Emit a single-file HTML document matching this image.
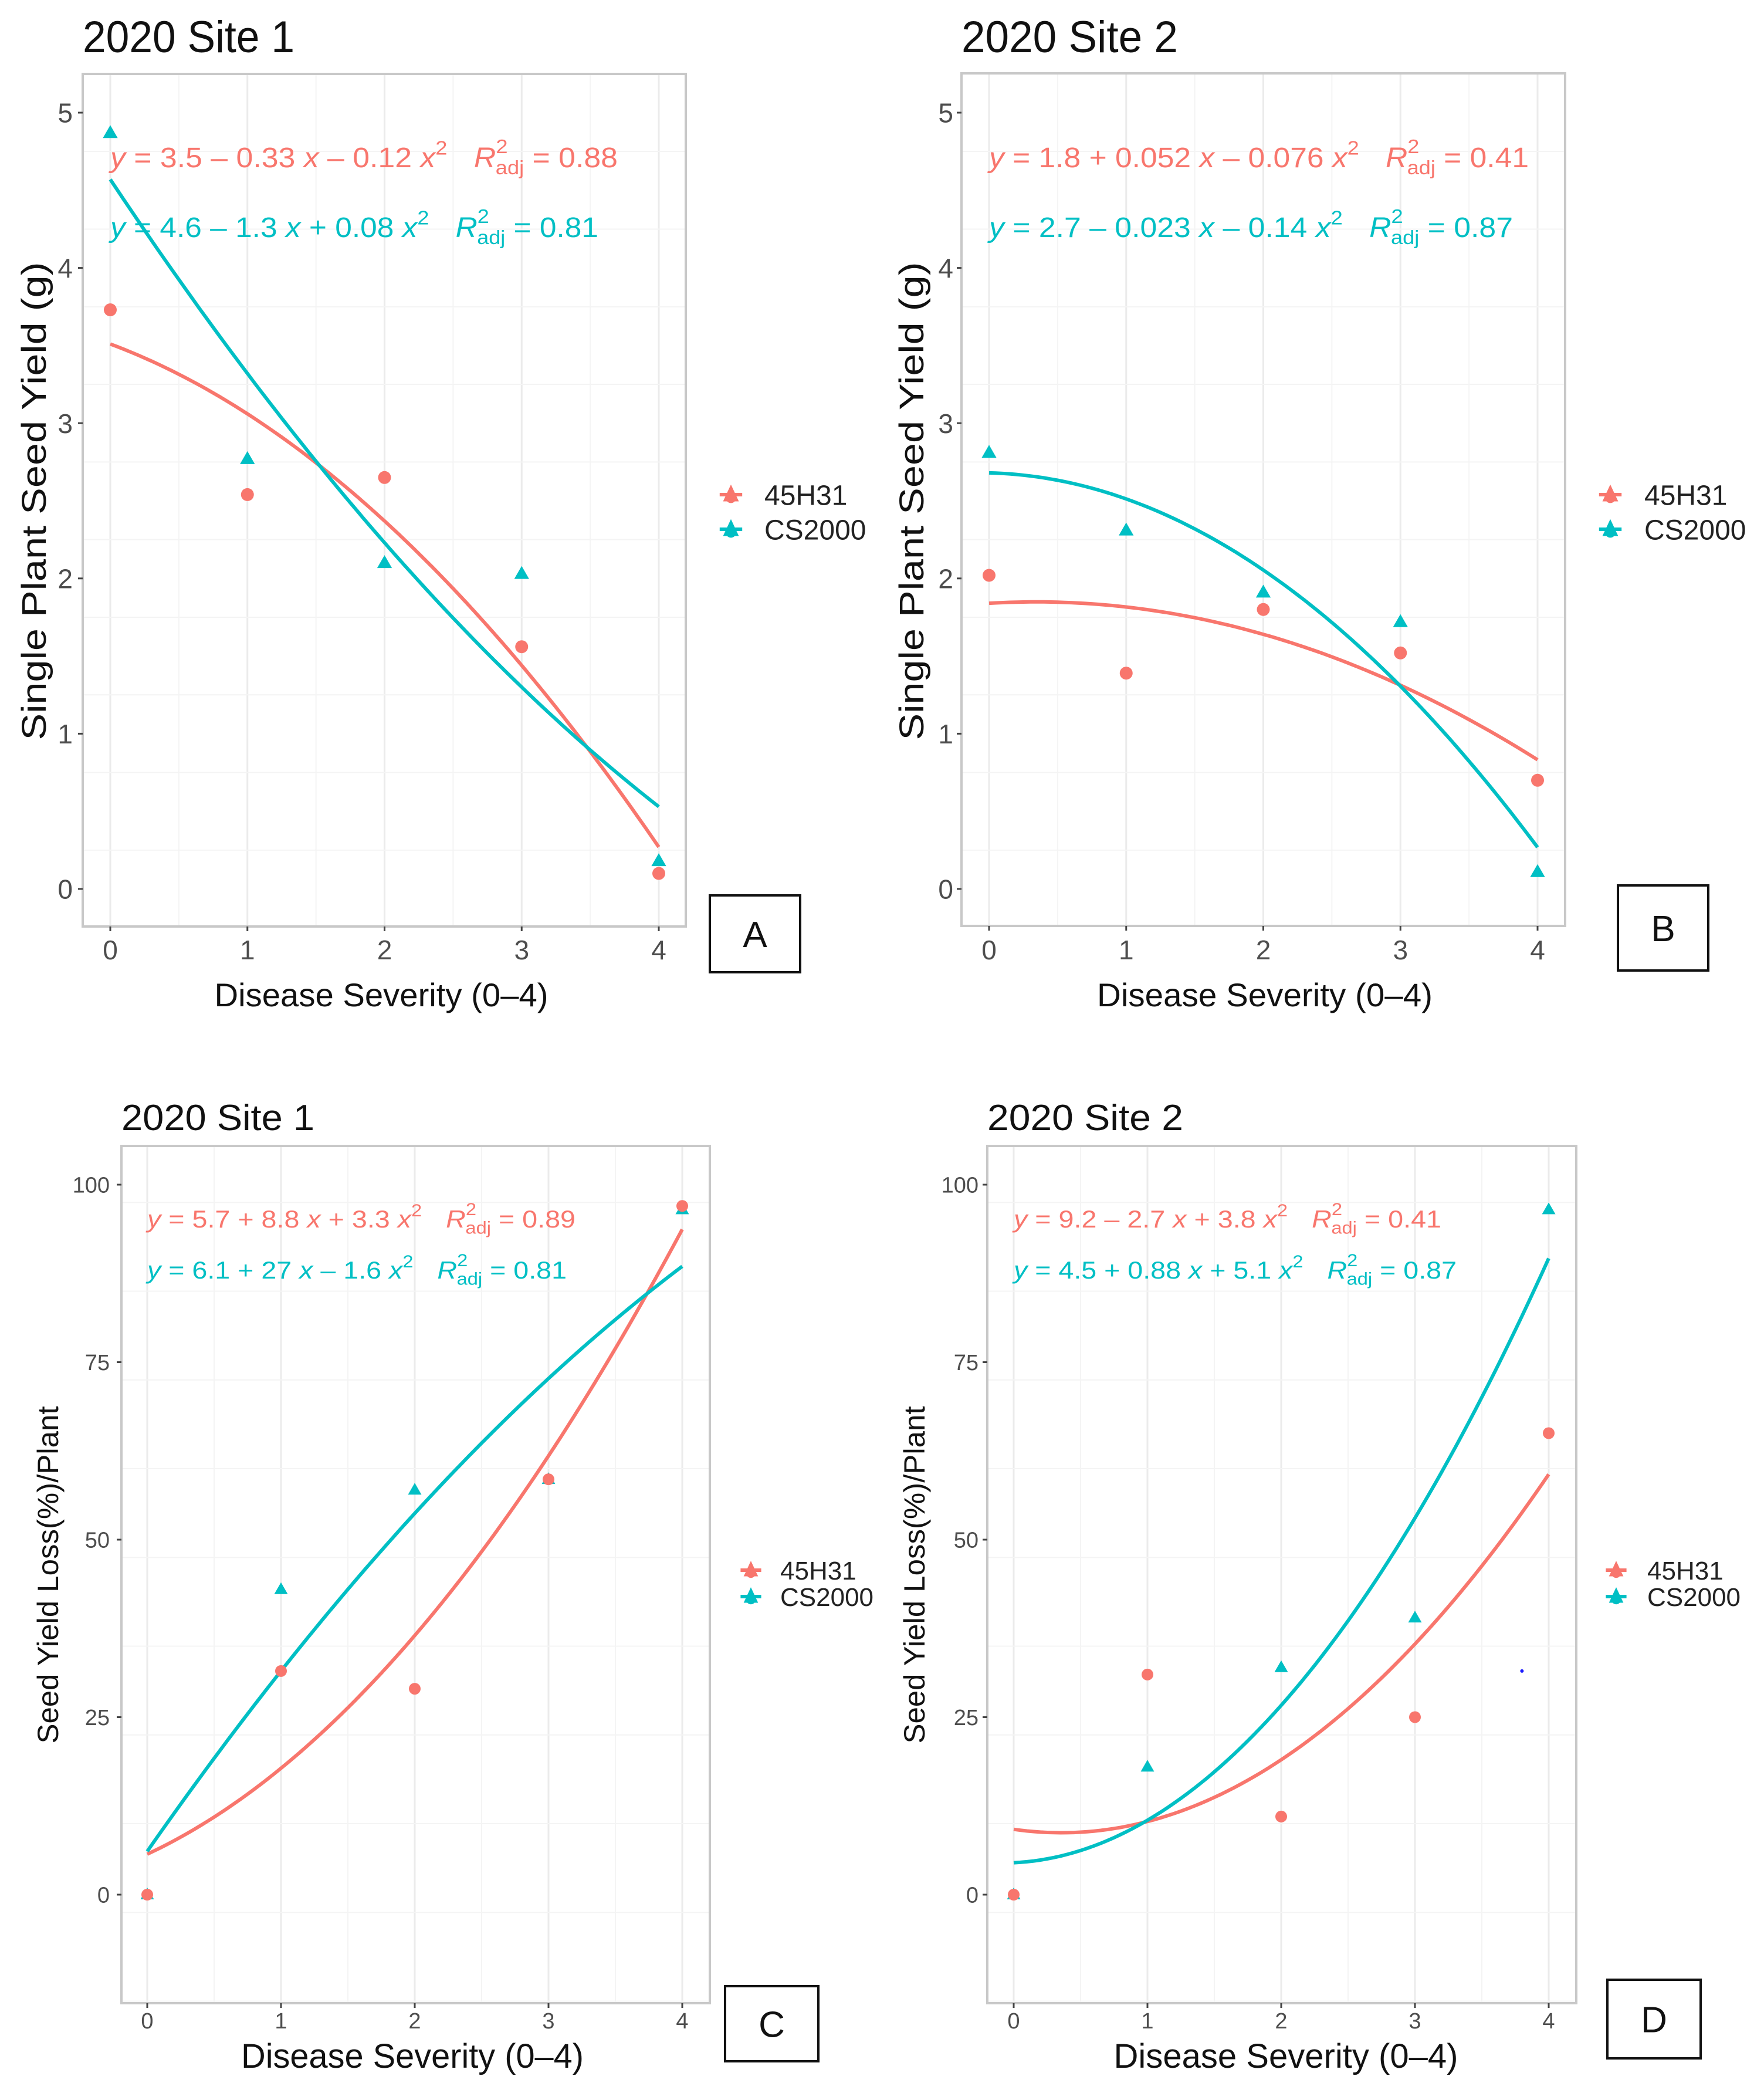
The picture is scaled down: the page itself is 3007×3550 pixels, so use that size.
<!DOCTYPE html>
<html><head><meta charset="utf-8"><style>
html,body{margin:0;padding:0;background:#fff;}
svg{display:block;font-family:"Liberation Sans",Arial,sans-serif;}
</style></head><body>
<svg id="fig" width="3007" height="3550" viewBox="0 0 3007 3550" xmlns="http://www.w3.org/2000/svg"></svg>
<script>
// ---- data ----
const xCategories = [0, 1, 2, 3, 4];
const seriesNames = ["45H31", "CS2000"];
const panelTitles = ["2020 Site 1", "2020 Site 2", "2020 Site 1", "2020 Site 2"];
const panelLetters = ["A", "B", "C", "D"];
const yTicksYield = [0, 1, 2, 3, 4, 5];
const yTicksLoss = [0, 25, 50, 75, 100];
const xTickLabels = ["0", "1", "2", "3", "4"];
const aRed = [3.73, 2.54, 2.65, 1.56, 0.10];
const aTeal = [4.87, 2.77, 2.10, 2.03, 0.18];
const bRed = [2.02, 1.39, 1.80, 1.52, 0.70];
const bTeal = [2.81, 2.31, 1.91, 1.72, 0.11];
const cRed = [0, 31.5, 29, 58.5, 97];
const cTeal = [0, 43, 57, 58.5, 96.5];
const dRed = [0, 31, 11, 25, 65];
const dTeal = [0, 18, 32, 39, 96.5];
const aRedFit = [3.51, -0.33, -0.12];
const aTealFit = [4.57, -1.33, 0.08];
const bRedFit = [1.84, 0.052, -0.076];
const bTealFit = [2.68, -0.023, -0.145];
const cRedFit = [5.7, 8.8, 3.3];
const cTealFit = [6.1, 27, -1.6];
const dRedFit = [9.2, -2.7, 3.8];
const dTealFit = [4.5, 0.88, 5.1];
const eqA = [["3.5","–","0.33","–","0.12","0.88"],["4.6","–","1.3","+","0.08","0.81"]];
const eqB = [["1.8","+","0.052","–","0.076","0.41"],["2.7","–","0.023","–","0.14","0.87"]];
const eqC = [["5.7","+","8.8","+","3.3","0.89"],["6.1","+","27","–","1.6","0.81"]];
const eqD = [["9.2","–","2.7","+","3.8","0.41"],["4.5","+","0.88","+","5.1","0.87"]];

const RED = "#F8766D", TEAL = "#00BFC4";
const NS = "http://www.w3.org/2000/svg";
const svg = document.getElementById("fig");
function mk(tag, attrs, parent){ const e=document.createElementNS(NS,tag); for(const k in attrs) e.setAttribute(k,attrs[k]); (parent||svg).appendChild(e); return e; }

const panels = [
 {L:141,R:1169,T:126,B:1579,x0:188,x4:1123,vA:0,pA:1515,vB:5,pB:192,ymin:-0.25,ymax:5.25,yt:yTicksYield,minor:0.5,
  red:aRed,teal:aTeal,rf:aRedFit,tf:aTealFit,eq:eqA,eqY:[285,404],eqW:[865,832],eqF:48,
  title:[141,89,361,76],tickF:46,tickR:124,yTitle:[57,854,815,58],yLab:"Single Plant Seed Yield (g)",
  xTitle:[650,1715,569,56],xTickY:1635,leg:[1246,1303,843,902,48],box:[1210,1526,154,131,62],mr:11,lw:6},
 {L:1639,R:2668,T:125,B:1578,x0:1686,x4:2621,vA:0,pA:1515,vB:5,pB:192,ymin:-0.25,ymax:5.25,yt:yTicksYield,minor:0.5,
  red:bRed,teal:bTeal,rf:bRedFit,tf:bTealFit,eq:eqB,eqY:[285,404],eqW:[920,893],eqF:48,
  title:[1639,89,369,76],tickF:46,tickR:1625,yTitle:[1553,854,815,58],yLab:"Single Plant Seed Yield (g)",
  xTitle:[2156,1715,572,56],xTickY:1635,leg:[2745,2803,843,902,48],box:[2758,1509,154,145,62],mr:11,lw:6},
 {L:207,R:1210,T:1953,B:3414,x0:251,x4:1163,vA:0,pA:3229,vB:100,pB:2019,ymin:-15,ymax:105,yt:yTicksLoss,minor:12.5,
  red:cRed,teal:cTeal,rf:cRedFit,tf:cTealFit,eq:eqC,eqY:[2092,2179],eqW:[730,715],eqF:42,
  title:[207,1926,329,62],tickF:38,tickR:187,yTitle:[81,2684,575,50],yLab:"Seed Yield Loss(%)/Plant",
  xTitle:[703,3524,584,58],xTickY:3457,leg:[1280,1330,2676,2721,44],box:[1236,3385,159,128,62],mr:10,lw:6},
 {L:1683,R:2687,T:1953,B:3414,x0:1728,x4:2640,vA:0,pA:3229,vB:100,pB:2019,ymin:-15,ymax:105,yt:yTicksLoss,minor:12.5,
  red:dRed,teal:dTeal,rf:dRedFit,tf:dTealFit,eq:eqD,eqY:[2092,2179],eqW:[729,755],eqF:42,
  title:[1683,1926,334,62],tickF:38,tickR:1668,yTitle:[1558,2684,575,50],yLab:"Seed Yield Loss(%)/Plant",
  xTitle:[2192,3524,587,58],xTickY:3457,leg:[2755,2808,2676,2721,44],box:[2740,3374,159,134,62],mr:10,lw:6}
];

panels.forEach((p, i) => {
  const g = mk("g", {});
  
  
  const xs = v => p.x0 + (p.x4 - p.x0) * v / 4;
  const ys = v => p.pA + (p.pB - p.pA) * (v - p.vA) / (p.vB - p.vA);
  for (let v = -0.5; v <= 4.5; v += 0.5) {
    const x = xs(v); if (x <= p.L || x >= p.R) continue;
    const l = mk("line", {x1:x, x2:x, y1:p.T, y2:p.B, stroke: Number.isInteger(v) ? "#ebebeb" : "#f4f4f4", "stroke-width": Number.isInteger(v) ? 3 : 2}, g);
    
    
  }
  for (let v = p.ymin - p.minor; v <= p.ymax + p.minor; v += p.minor) {
    const y = ys(v); if (y <= p.T || y >= p.B) continue;
    const major = p.yt.some(t => Math.abs(t - v) < 1e-6);
    const l = mk("line", {x1:p.L, x2:p.R, y1:y, y2:y, stroke: major ? "#ebebeb" : "#f4f4f4", "stroke-width": major ? 3 : 2}, g);
    
    
  }
  const frame = mk("rect", {x:p.L, y:p.T, width:p.R-p.L, height:p.B-p.T, fill:"none", stroke:"#c8c8c8", "stroke-width":4}, g);
  
  
  p.yt.forEach(t => {
    const y = ys(t);
    const tk = mk("line", {x1:p.L-8, x2:p.L, y1:y, y2:y, stroke:"#444", "stroke-width":3}, g);
    
    
    const tx = mk("text", {x:p.tickR, y:y + p.tickF*0.36, "font-size":p.tickF, fill:"#4d4d4d", "text-anchor":"end"}, g);
    tx.textContent = String(t);
    
    
  });
  xCategories.forEach((c, k) => {
    const x = xs(c);
    const tk = mk("line", {x1:x, x2:x, y1:p.B, y2:p.B+8, stroke:"#444", "stroke-width":3}, g);
    
    
    const tx = mk("text", {x:x, y:p.xTickY, "font-size":p.tickF, fill:"#4d4d4d", "text-anchor":"middle"}, g);
    tx.textContent = xTickLabels[k];
    
    
  });
  [[p.rf, RED, 'fit-line-45h31'], [p.tf, TEAL, 'fit-line-cs2000']].forEach(([f, col, nm]) => {
    let d = "";
    for (let s = 0; s <= 80; s++) { const v = s / 20; const yv = f[0] + f[1]*v + f[2]*v*v; d += (s ? "L" : "M") + xs(v).toFixed(1) + "," + ys(yv).toFixed(1); }
    const pth = mk("path", {d:d, fill:"none", stroke:col, "stroke-width":p.lw}, g);
    
    
  });
  xCategories.forEach((c, k) => {
    const x = xs(c), yr = ys(p.red[k]), yt = ys(p.teal[k]), r = p.mr;
    const tri = mk("polygon", {points:`${x},${yt-r*1.2} ${x-r*1.15},${yt+r*0.8} ${x+r*1.15},${yt+r*0.8}`, fill:TEAL}, g);
    
    
    const cir = mk("circle", {cx:x, cy:yr, r:r, fill:RED}, g);
    
    
  });
  if (i === 3) {
    const dot = mk("circle", {cx:xs(3.8), cy:ys(31.5), r:3, fill:"#1a1aff"}, g);
    
    
  }
  p.eq.forEach((e, k) => {
    const col = k ? TEAL : RED;
    const t = mk("text", {x:(p.x0), y:p.eqY[k], "font-size":p.eqF, fill:col, textLength:p.eqW[k], lengthAdjust:"spacingAndGlyphs"}, g);
    t.innerHTML = `<tspan font-style="italic">y</tspan> = ${e[0]} ${e[1]} ${e[2]} <tspan font-style="italic">x</tspan> ${e[3]} ${e[4]} <tspan font-style="italic">x</tspan><tspan dy="-${p.eqF*0.45}" font-size="${p.eqF*0.7}">2</tspan><tspan dy="${p.eqF*0.45}">   </tspan><tspan font-style="italic" dx="${p.eqF*0.6}">R</tspan><tspan dy="-${p.eqF*0.5}" font-size="${p.eqF*0.7}">2</tspan><tspan dy="${p.eqF*0.75}" dx="-${p.eqF*0.4}" font-size="${p.eqF*0.7}">adj</tspan><tspan dy="-${p.eqF*0.25}"> = ${e[5]}</tspan>`;
    
    
  });
  const ti = mk("text", {x:p.title[0], y:p.title[1], "font-size":p.title[3], fill:"#111", textLength:p.title[2], lengthAdjust:"spacingAndGlyphs"}, g);
  ti.textContent = panelTitles[i];
  
  
  const yt = mk("text", {x:0, y:0, "font-size":p.yTitle[3], fill:"#111", "text-anchor":"middle", textLength:p.yTitle[2], lengthAdjust:"spacingAndGlyphs", transform:`translate(${p.yTitle[0]+p.yTitle[3]*0.36},${p.yTitle[1]}) rotate(-90)`}, g);
  yt.textContent = p.yLab;
  
  
  const xt = mk("text", {x:p.xTitle[0], y:p.xTitle[1], "font-size":p.xTitle[3], fill:"#111", "text-anchor":"middle", textLength:p.xTitle[2], lengthAdjust:"spacingAndGlyphs"}, g);
  xt.textContent = "Disease Severity (0–4)";
  
  
  [RED, TEAL].forEach((col, k) => {
    const cx = p.leg[0], cy = p.leg[2 + k], s = p.leg[4]*0.4;
    const lg = mk("g", {}, g);
    
    
    mk("line", {x1:cx-s, x2:cx+s, y1:cy, y2:cy, stroke:col, "stroke-width":p.lw}, lg);
    mk("polygon", {points:`${cx},${cy-s*0.9} ${cx-s*0.7},${cy+s*0.6} ${cx+s*0.7},${cy+s*0.6}`, fill:col}, lg);
    mk("circle", {cx:cx, cy:cy+s*0.3, r:s*0.45, fill:col}, lg);
    const lt = mk("text", {x:p.leg[1], y:cy + p.leg[4]*0.36, "font-size":p.leg[4], fill:"#222"}, lg);
    lt.textContent = seriesNames[k];
  });
  const b = p.box;
  const bx = mk("rect", {x:b[0], y:b[1], width:b[2], height:b[3], fill:"#fff", stroke:"#111", "stroke-width":4}, g);
  
  
  const bt = mk("text", {x:b[0]+b[2]/2, y:b[1]+b[3]/2+b[4]*0.36, "font-size":b[4], fill:"#111", "text-anchor":"middle"}, g);
  bt.textContent = panelLetters[i];
  
  
});
</script>
</body></html>
